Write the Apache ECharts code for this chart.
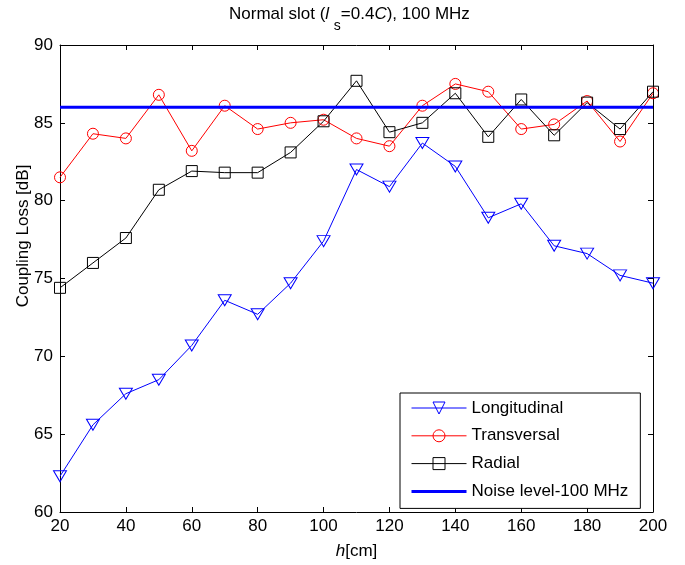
<!DOCTYPE html>
<html>
<head>
<meta charset="utf-8">
<script src="https://cdn.jsdelivr.net/npm/echarts@6/dist/echarts.min.js"></script>
<style>html,body{margin:0;padding:0;background:#fff;}#c{width:685px;height:565px;}</style>
</head>
<body>
<div id="c"></div>
<script>
var hValues = [20,30,40,50,60,70,80,90,100,110,120,130,140,150,160,170,180,190,200];
var longitudinal = [62.3,65.6,67.6,68.5,70.7,73.6,72.7,74.7,77.4,82.0,80.9,83.7,82.2,78.9,79.8,77.1,76.6,75.2,74.7];
var transversal = [81.5,84.3,84.0,86.8,83.2,86.1,84.6,85.0,85.2,84.0,83.5,86.1,87.5,87.0,84.6,84.9,86.4,83.8,86.9];
var radial = [74.4,76.0,77.6,80.7,81.9,81.8,81.8,83.1,85.1,87.7,84.4,85.0,86.9,84.1,86.5,84.2,86.3,84.6,87.0];
var noiseLevel = 86;
var noiseRange = [20, 200];
var seriesNames = ['Longitudinal','Transversal','Radial','Noise level-100 MHz'];

function pairs(ys){ return hValues.map(function(h,i){ return [h, ys[i]]; }); }

var FONT = 'Liberation Sans, Arial, sans-serif';
var chart = echarts.init(document.getElementById('c'), null, {renderer:'canvas'});

function axisCommon(extra){
  var o = {
    axisLine:{show:true, onZero:false, lineStyle:{color:'#000', width:1}},
    axisTick:{show:true, inside:true, length:5, lineStyle:{color:'#000'}},
    splitLine:{show:false},
    axisLabel:{color:'#000', fontSize:17, fontFamily:FONT}
  };
  for (var k in extra) o[k] = extra[k];
  return o;
}

var option = {
  backgroundColor:'#fff',
  animation:false,
  title:{
    text:'Normal slot ({i|l} {s|s}=0.4{i|C}), 100 MHz',
    left:229, top:-5, padding:0,
    textStyle:{
      fontSize:17, fontWeight:'normal', color:'#000', fontFamily:FONT,
      rich:{
        i:{fontStyle:'italic', fontSize:17, fontFamily:FONT, color:'#000'},
        s:{fontSize:14, fontFamily:FONT, color:'#000', padding:[24,0,0,0]}
      }
    }
  },
  grid:{left:60, right:32, top:45, bottom:53, containLabel:false},
  xAxis:[
    axisCommon({type:'value', min:20, max:200, interval:20, position:'bottom',
      axisLabel:{color:'#000', fontSize:17, fontFamily:FONT, margin:6},
      name:'{i|h}[cm]', nameLocation:'middle', nameGap:31, nameMoveOverlap:false,
      nameTextStyle:{color:'#000', fontSize:17, fontFamily:FONT,
        rich:{i:{fontStyle:'italic', fontSize:17, fontFamily:FONT, color:'#000'}}}}),
    axisCommon({type:'value', min:20, max:200, interval:20, position:'top',
      axisLabel:{show:false}})
  ],
  yAxis:[
    axisCommon({type:'value', min:60, max:90, interval:5, position:'left',
      axisLabel:{color:'#000', fontSize:17, fontFamily:FONT, margin:7},
      name:'Coupling Loss [dB]', nameLocation:'middle', nameRotate:90, nameGap:28, nameMoveOverlap:false,
      nameTextStyle:{color:'#000', fontSize:17, fontFamily:FONT, padding:[0,0,0,85]}}),
    axisCommon({type:'value', min:60, max:90, interval:5, position:'right',
      axisLabel:{show:false}})
  ],
  legend:{
    orient:'vertical', left:400, top:393,
    data:[
      {name:seriesNames[0], lineStyle:{width:1}, itemStyle:{borderWidth:1}},
      {name:seriesNames[1], lineStyle:{width:1}, itemStyle:{borderWidth:1}},
      {name:seriesNames[2], lineStyle:{width:1}, itemStyle:{borderWidth:1}},
      {name:seriesNames[3], icon:'path://M0,0L55,0L55,3L0,3Z', itemStyle:{color:'#0000ff', borderWidth:0}}
    ],
    backgroundColor:'#fff', borderColor:'#000', borderWidth:1, borderRadius:0,
    padding:[6.5, 12, 8.5, 11],
    itemWidth:55, itemHeight:15, itemGap:10.8,
    textStyle:{color:'#000', fontSize:17, fontFamily:FONT, lineHeight:15}
  },
  series:[
    {name:seriesNames[0], type:'line', data:pairs(longitudinal),
     symbol:'triangle', symbolSize:[13,11], symbolRotate:180,
     lineStyle:{color:'#0000ff', width:1},
     itemStyle:{color:'transparent', borderColor:'#0000ff', borderWidth:1}, z:3},
    {name:seriesNames[1], type:'line', data:pairs(transversal),
     symbol:'circle', symbolSize:11,
     lineStyle:{color:'#ff0000', width:1},
     itemStyle:{color:'transparent', borderColor:'#ff0000', borderWidth:1}, z:3},
    {name:seriesNames[2], type:'line', data:pairs(radial),
     symbol:'rect', symbolSize:11,
     lineStyle:{color:'#000000', width:1},
     itemStyle:{color:'transparent', borderColor:'#000000', borderWidth:1}, z:3},
    {name:seriesNames[3], type:'line',
     data:noiseRange.map(function(h){ return [h, noiseLevel]; }),
     symbol:'none', lineStyle:{color:'#0000ff', width:3},
     itemStyle:{color:'#0000ff'}, z:4}
  ]
};
chart.setOption(option);
</script>
</body>
</html>
